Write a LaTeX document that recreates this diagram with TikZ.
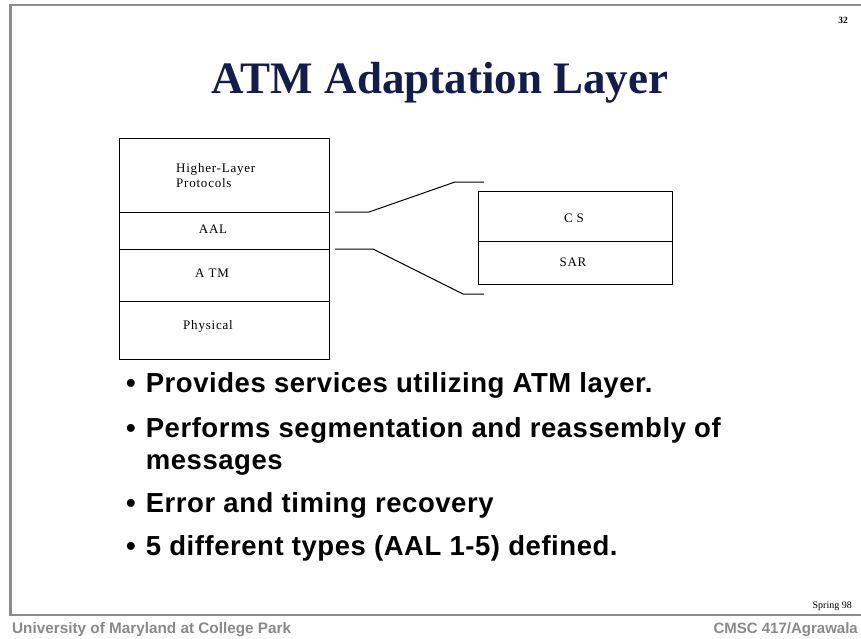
\documentclass[tikz,border=0pt]{standalone}
\usepackage{fontspec}
\setmainfont{Liberation Serif}
\newfontfamily\arialfont{Liberation Sans}
\newfontfamily\labelfont[LetterSpace=6]{Liberation Serif}
\newfontfamily\bulletfont[LetterSpace=2]{Liberation Sans}
\definecolor{titleblue}{HTML}{131D4C}
\definecolor{framegray}{HTML}{8C8C8C}
\definecolor{footgray}{HTML}{8A8A8A}
\begin{document}
\begin{tikzpicture}[x=1pt,y=-1pt,
  layer/.style={draw, line width=1pt, anchor=north west, minimum width=210pt, inner sep=0pt},
  sublayer/.style={draw, line width=1pt, anchor=north west, minimum width=194pt, inner sep=0pt},
  small/.style={font=\labelfont\fontsize{13}{15}\selectfont, inner sep=0pt},
  bracket/.style={line width=1pt},
  bulletline/.style={font=\bulletfont\bfseries\fontsize{27.5}{32}\selectfont, anchor=west, inner sep=0pt, align=left},
  frame/.style={framegray, line width=2.6pt}]
\useasboundingbox (0,0) rectangle (861,639);
\fill[white] (0,0) rectangle (861,639);

% slide frame
\draw[frame] (861,5) -- (10.5,5) -- (10.5,615) -- (861,615);

% page number and title
\node[font=\bfseries\fontsize{9.5}{10}\selectfont, inner sep=0pt] (pageno) at (843,20) {32};
\node[font=\bfseries\fontsize{45}{50}\selectfont, text=titleblue, inner sep=0pt] (title) at (440,83) {ATM Adaptation Layer};

% protocol stack
\node[layer, minimum height=74pt] (higher) at (119,138) {};
\node[layer, minimum height=37pt] (aal) at (119,212) {};
\node[layer, minimum height=52pt] (atm) at (119,249) {};
\node[layer, minimum height=58pt] (phys) at (119,301) {};
\node[small, anchor=west, align=left] (highertxt) at (176,176) {Higher-Layer\\Protocols};
\node[small] (aaltxt) at (213,229) {AAL};
\node[small] (atmtxt) at (212,273) {A TM};
\node[small] (phystxt) at (208,326) {Physical};

% AAL sublayers
\node[sublayer, minimum height=50pt] (cs) at (478,191) {};
\node[sublayer, minimum height=43pt] (sar) at (478,241) {};
\node[small] (cstxt) at (574,218) {C S};
\node[small] (sartxt) at (573,262) {SAR};

% expansion lines from the AAL layer to its sublayers
\coordinate (uA) at (335,212);
\coordinate (uB) at (369,212);
\coordinate (uC) at (455,182);
\coordinate (uD) at (484,182);
\coordinate (lA) at (335,249);
\coordinate (lB) at (373,249);
\coordinate (lC) at (463,294);
\coordinate (lD) at (484,294);
\draw[bracket] (uA) -- (uB) -- (uC) -- (uD);
\draw[bracket] (lA) -- (lB) -- (lC) -- (lD);

% bullet points
\node[bulletline] (b1) at (126,385) {\textbullet\hspace{10pt}Provides services utilizing ATM layer.};
\node[bulletline] (b2) at (126,446) {\textbullet\hspace{10pt}Performs segmentation and reassembly of\\\hphantom{\textbullet\hspace{10pt}}messages};
\node[bulletline] (b3) at (126,505) {\textbullet\hspace{10pt}Error and timing recovery};
\node[bulletline] (b4) at (126,548) {\textbullet\hspace{10pt}5 different types (AAL 1-5) defined.};

% footer
\node[font=\fontsize{10}{12}\selectfont, anchor=east, inner sep=0pt] (spring) at (852,606) {Spring 98};
\node[font=\arialfont\bfseries\fontsize{15.3}{18}\selectfont, text=footgray, anchor=west, inner sep=0pt] (univ) at (12,630) {University of Maryland at College Park};
\node[font=\arialfont\bfseries\fontsize{15}{18}\selectfont, text=footgray, anchor=east, inner sep=0pt] (course) at (858,630) {CMSC 417/Agrawala};
\end{tikzpicture}
\end{document}
